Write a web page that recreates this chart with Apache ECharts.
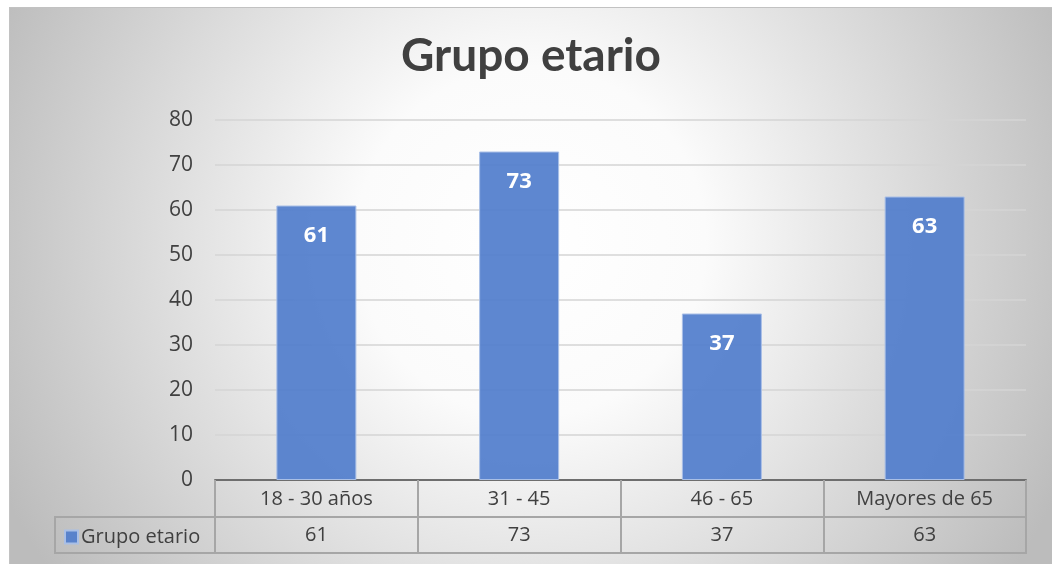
<!DOCTYPE html>
<html><head><meta charset="utf-8">
<script src="https://cdn.jsdelivr.net/npm/echarts@6/dist/echarts.min.js"></script>
<style>
html,body{margin:0;padding:0;background:#fff;width:1052px;height:564px;overflow:hidden}
#c{position:absolute;left:9px;top:7px;width:1043px;height:557px;border-top:1px solid #c2c2c2;border-left:1px solid #c2c2c2;box-sizing:border-box}
</style></head>
<body><div id="c"></div>
<script>
const title = 'Grupo etario';
const seriesName = 'Grupo etario';
const categories = ['18 - 30 años', '31 - 45', '46 - 65', 'Mayores de 65'];
const values = [61, 73, 37, 63];
const yMin = 0, yMax = 80, yStep = 10;

const txt = '#404040';
const lineGrey = '#a6a6a6';
const font = 'Open Sans';

const chart = echarts.init(document.getElementById('c'));
chart.setOption({
  backgroundColor: {
    type: 'radial', x: 0.5, y: 0.42, r: 1.05,
    colorStops: [{offset: 0, color: '#ffffff'}, {offset: 0.3, color: '#fbfbfb'}, {offset: 1, color: '#bcbcbc'}]
  },
  title: {
    text: title, left: 'center', top: 20,
    textStyle: {fontFamily: 'Lato', fontWeight: 'bold', fontSize: 46, color: txt}
  },
  legend: {
    data: [seriesName], left: 49, top: 514, itemWidth: 13, itemHeight: 13, itemGap: 0,
    icon: 'rect',
    textStyle: {fontFamily: font, fontSize: 20, color: txt, padding: [0, 0, 0, -2]}
  },
  grid: [
    {left: 205, right: 26, top: 112, bottom: 84},
    {left: 205, right: 26, top: 509, bottom: 11, show: true, borderColor: lineGrey, borderWidth: 2, backgroundColor: 'transparent'},
    {left: 45, width: 160, top: 509, bottom: 11, show: true, borderColor: lineGrey, borderWidth: 2, backgroundColor: 'transparent'}
  ],
  xAxis: [
    {
      type: 'category', data: categories, gridIndex: 0,
      axisLine: {lineStyle: {color: '#6e6e6e', width: 2}},
      axisTick: {show: true, length: 73, lineStyle: {color: lineGrey, width: 2}},
      axisLabel: {margin: 9, fontFamily: font, fontSize: 20, color: txt}
    },
    {
      type: 'category', data: categories, gridIndex: 1,
      axisLine: {show: false}, axisTick: {show: false}, axisLabel: {show: false},
      splitLine: {show: false}
    },
    {
      type: 'category', data: [''], gridIndex: 2,
      axisLine: {show: false}, axisTick: {show: false}, axisLabel: {show: false}
    }
  ],
  yAxis: [
    {
      type: 'value', min: yMin, max: yMax, interval: yStep, gridIndex: 0,
      axisLine: {show: false}, axisTick: {show: false},
      axisLabel: {margin: 22, fontFamily: font, fontSize: 21, color: txt},
      splitLine: {lineStyle: {color: '#d4d4d4', width: 1.5}}
    },
    {
      type: 'category', data: [seriesName], gridIndex: 1,
      axisLine: {show: false}, axisTick: {show: false}, axisLabel: {show: false}
    },
    {
      type: 'category', data: [''], gridIndex: 2,
      axisLine: {show: false}, axisTick: {show: false}, axisLabel: {show: false}
    }
  ],
  series: [
    {
      name: seriesName, type: 'bar', data: values, barWidth: 80,
      xAxisIndex: 0, yAxisIndex: 0,
      itemStyle: {color: 'rgba(80,125,204,0.92)', borderColor: '#a9bfe6', borderWidth: 1},
      label: {show: true, position: 'insideTop', distance: 19, color: '#fff', fontFamily: font, fontWeight: 'bold', fontSize: 22}
    },
    {
      type: 'scatter', xAxisIndex: 1, yAxisIndex: 1, symbol: 'rect', symbolSize: 1,
      itemStyle: {color: 'rgba(0,0,0,0)', opacity: 1}, silent: true,
      data: values.map((v, i) => [categories[i], seriesName, v]),
      label: {show: true, position: 'inside', formatter: p => p.value[2], color: txt, opacity: 1, fontFamily: font, fontSize: 20}
    }
  ]
});
</script></body></html>
